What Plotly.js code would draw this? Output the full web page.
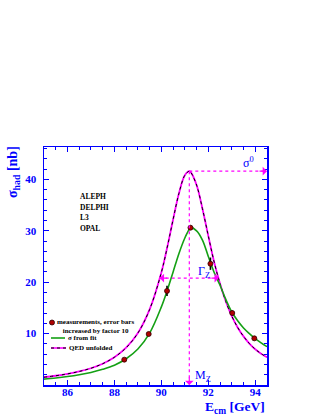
<!DOCTYPE html>
<html>
<head>
<meta charset="utf-8">
<script src="https://cdn.plot.ly/plotly-3.0.1.min.js"></script>
<style>
  html, body { margin: 0; padding: 0; background: #fff; }
  #chart { width: 321px; height: 415px; }
</style>
</head>
<body>
<div id="chart"></div>
<script>
// Z lineshape: hadronic cross section vs centre-of-mass energy
const curveE = [85, 85.5, 86, 86.5, 87, 87.5, 88, 88.5, 89, 89.5, 90, 90.25, 90.5, 90.75, 91, 91.19, 91.25,
                91.5, 91.75, 92, 92.25, 92.5, 92.75, 93, 93.25, 93.5, 93.75, 94, 94.25, 94.5];
const qedXsec = [1.52, 1.8, 2.16, 2.63, 3.26, 4.14, 5.4, 7.25, 10.1, 14.7, 21.9, 26.8, 32.2, 37.3, 40.8, 41.6, 41.4,
                 38.9, 34.3, 29.0, 23.9, 19.7, 16.2, 13.4, 11.2, 9.46, 8.07, 6.95, 6.1, 5.4];
const fitXsec = [1.15, 1.37, 1.65, 2.0, 2.45, 3.05, 3.85, 5.1, 7.0, 10.1, 15.2, 18.4, 22.0, 25.6, 28.6, 30.3, 30.6,
                 30.0, 28.2, 25.0, 21.9, 19.4, 16.6, 14.2, 12.5, 11.1, 10.0, 9.0, 8.2, 7.45];

const measE = [88.42, 89.46, 90.24, 91.24, 92.09, 93.02, 93.96];
const measXsec = [4.93, 9.92, 18.3, 30.6, 23.6, 14.0, 9.08];
const measErr = [0.3, 0.4, 1.0, 0.4, 1.2, 0.5, 0.4];   // already x10

const mZ = 91.19;
const sigma0 = 41.6;
const gammaEdges = [89.93, 92.45];
const experiments = ['ALEPH', 'DELPHI', 'L3', 'OPAL'];
const legendText = ['measurements, error bars<br>increased by factor 10', 'σ from fit', 'QED unfolded'];

const xRange = [85, 94.5];
const yRange = [0, 46.3];
const blue = '#0000ff';
const magenta = '#ff00ff';
const green = '#14a014';
const serif = 'Liberation Serif, Times New Roman, serif';

const traces = [
  {
    x: curveE, y: qedXsec, type: 'scatter', mode: 'lines',
    line: { color: magenta, width: 1.8, shape: 'spline' }, hoverinfo: 'skip'
  },
  {
    x: curveE, y: qedXsec, type: 'scatter', mode: 'lines',
    line: { color: 'black', width: 1, dash: 'dot', shape: 'spline' }
  },
  {
    x: curveE, y: fitXsec, type: 'scatter', mode: 'lines',
    line: { color: green, width: 1.6, shape: 'spline' }
  },
  {
    x: measE, y: measXsec, type: 'scatter', mode: 'markers',
    marker: { color: '#b00000', size: 5, line: { color: '#300000', width: 0.8 } },
    error_y: { type: 'data', array: measErr, visible: true, color: 'black', thickness: 1.6, width: 0 }
  }
];

// plot area in pixels, used to place the hand-made legend
const plotL = 44, plotW = 223, plotB = 385, plotH = 238;
const px = p => (p - plotL) / plotW;
const py = p => (plotB - p) / plotH;

const dotLine = { color: magenta, width: 1.2, dash: 'dot' };
const shapes = [
  { type: 'line', xref: 'x', yref: 'y', x0: mZ, x1: xRange[1], y0: sigma0, y1: sigma0, line: dotLine },
  { type: 'line', xref: 'x', yref: 'y', x0: mZ, x1: mZ, y0: sigma0, y1: yRange[0], line: dotLine },
  { type: 'line', xref: 'x', yref: 'y', x0: gammaEdges[0], x1: gammaEdges[1], y0: sigma0 / 2, y1: sigma0 / 2, line: dotLine },
  // legend symbols
  { type: 'circle', xref: 'paper', yref: 'paper', xsizemode: 'pixel', ysizemode: 'pixel',
    xanchor: px(52), yanchor: py(322.5), x0: -2.5, x1: 2.5, y0: -2.5, y1: 2.5,
    fillcolor: '#b00000', line: { color: '#300000', width: 0.8 } },
  { type: 'line', xref: 'paper', yref: 'paper', x0: px(51), x1: px(65), y0: py(338), y1: py(338),
    line: { color: green, width: 1.6 } },
  { type: 'line', xref: 'paper', yref: 'paper', x0: px(51), x1: px(66), y0: py(348), y1: py(348),
    line: { color: magenta, width: 1.6 } },
  { type: 'line', xref: 'paper', yref: 'paper', x0: px(51), x1: px(66), y0: py(348), y1: py(348),
    line: { color: 'black', width: 1, dash: 'dot' } }
];

function arrow(x, y, ax, ay) {
  return { x: x, y: y, xref: 'x', yref: 'y', ax: ax, ay: ay, axref: 'pixel', ayref: 'pixel',
           text: '', showarrow: true, arrowhead: 1, arrowsize: 1.2, arrowwidth: 1.2, arrowcolor: magenta };
}

const smallFont = { family: serif, size: 7, color: 'black', weight: 'bold' };
const annotations = [
  arrow(xRange[1], sigma0, -9, 0),
  arrow(mZ, yRange[0], 0, -9),
  arrow(gammaEdges[0], sigma0 / 2, 9, 0),
  arrow(gammaEdges[1], sigma0 / 2, -9, 0),
  { x: 93.72, y: 43.3, xref: 'x', yref: 'y', text: 'σ<sup>0</sup>', showarrow: false,
    font: { family: serif, size: 12, color: blue } },
  { x: 91.8, y: 22.0, xref: 'x', yref: 'y', text: 'Γ<sub>Z</sub>', showarrow: false,
    font: { family: serif, size: 12, color: blue } },
  { x: 91.35, y: 1.8, xref: 'x', yref: 'y', xanchor: 'left', text: 'M<sub>Z</sub>', showarrow: false,
    font: { family: serif, size: 12, color: blue } },
  { x: px(13), y: py(172), xref: 'paper', yref: 'paper', xanchor: 'center', yanchor: 'middle', textangle: -90,
    text: 'σ<sub>had</sub> [nb]', showarrow: false, font: { family: serif, size: 14, color: blue, weight: 'bold' } },
  { x: 1, y: py(407), xref: 'paper', yref: 'paper', xanchor: 'right', yanchor: 'middle',
    text: 'E<sub>cm</sub> [GeV]', showarrow: false, font: { family: serif, size: 13.5, color: blue, weight: 'bold' } },
  // legend text
  { x: px(95), y: py(326), xref: 'paper', yref: 'paper', xanchor: 'center', yanchor: 'middle', align: 'center',
    text: legendText[0], showarrow: false, font: smallFont },
  { x: px(66), y: py(338), xref: 'paper', yref: 'paper', xanchor: 'left', yanchor: 'middle',
    text: legendText[1], showarrow: false, font: smallFont },
  { x: px(67), y: py(348), xref: 'paper', yref: 'paper', xanchor: 'left', yanchor: 'middle',
    text: legendText[2], showarrow: false, font: smallFont }
];

const expY = [36.6, 34.6, 32.5, 30.5];
experiments.forEach((name, i) => {
  annotations.push({ x: 86.45, y: expY[i], xref: 'x', yref: 'y', xanchor: 'left', text: name, showarrow: false,
                     font: { family: serif, size: 7.5, color: 'black', weight: 'bold' } });
});

const axisCommon = {
  showline: true, linecolor: blue, linewidth: 1.5, mirror: 'ticks',
  ticks: 'inside', ticklen: 5, tickwidth: 1.2, tickcolor: blue,
  showgrid: false, zeroline: false,
  tickfont: { family: serif, size: 11, color: blue, weight: 'bold' }
};

const layout = {
  width: 321, height: 415,
  margin: { l: 44, r: 54, t: 147, b: 30 },
  paper_bgcolor: 'white', plot_bgcolor: 'white',
  showlegend: false,
  xaxis: Object.assign({}, axisCommon, {
    range: xRange, tickvals: [86, 88, 90, 92, 94], ticklabelstandoff: -4,
    minor: { dtick: 0.5, tick0: 85, ticks: 'inside', ticklen: 3, tickcolor: blue, tickwidth: 1 }
  }),
  yaxis: Object.assign({}, axisCommon, {
    range: yRange, tickvals: [10, 20, 30, 40], ticklabelstandoff: 4,
    minor: { dtick: 2, tick0: 0, ticks: 'inside', ticklen: 3, tickcolor: blue, tickwidth: 1 }
  }),
  shapes: shapes,
  annotations: annotations
};

Plotly.newPlot('chart', traces, layout, { displayModeBar: false, staticPlot: true });
</script>
</body>
</html>
